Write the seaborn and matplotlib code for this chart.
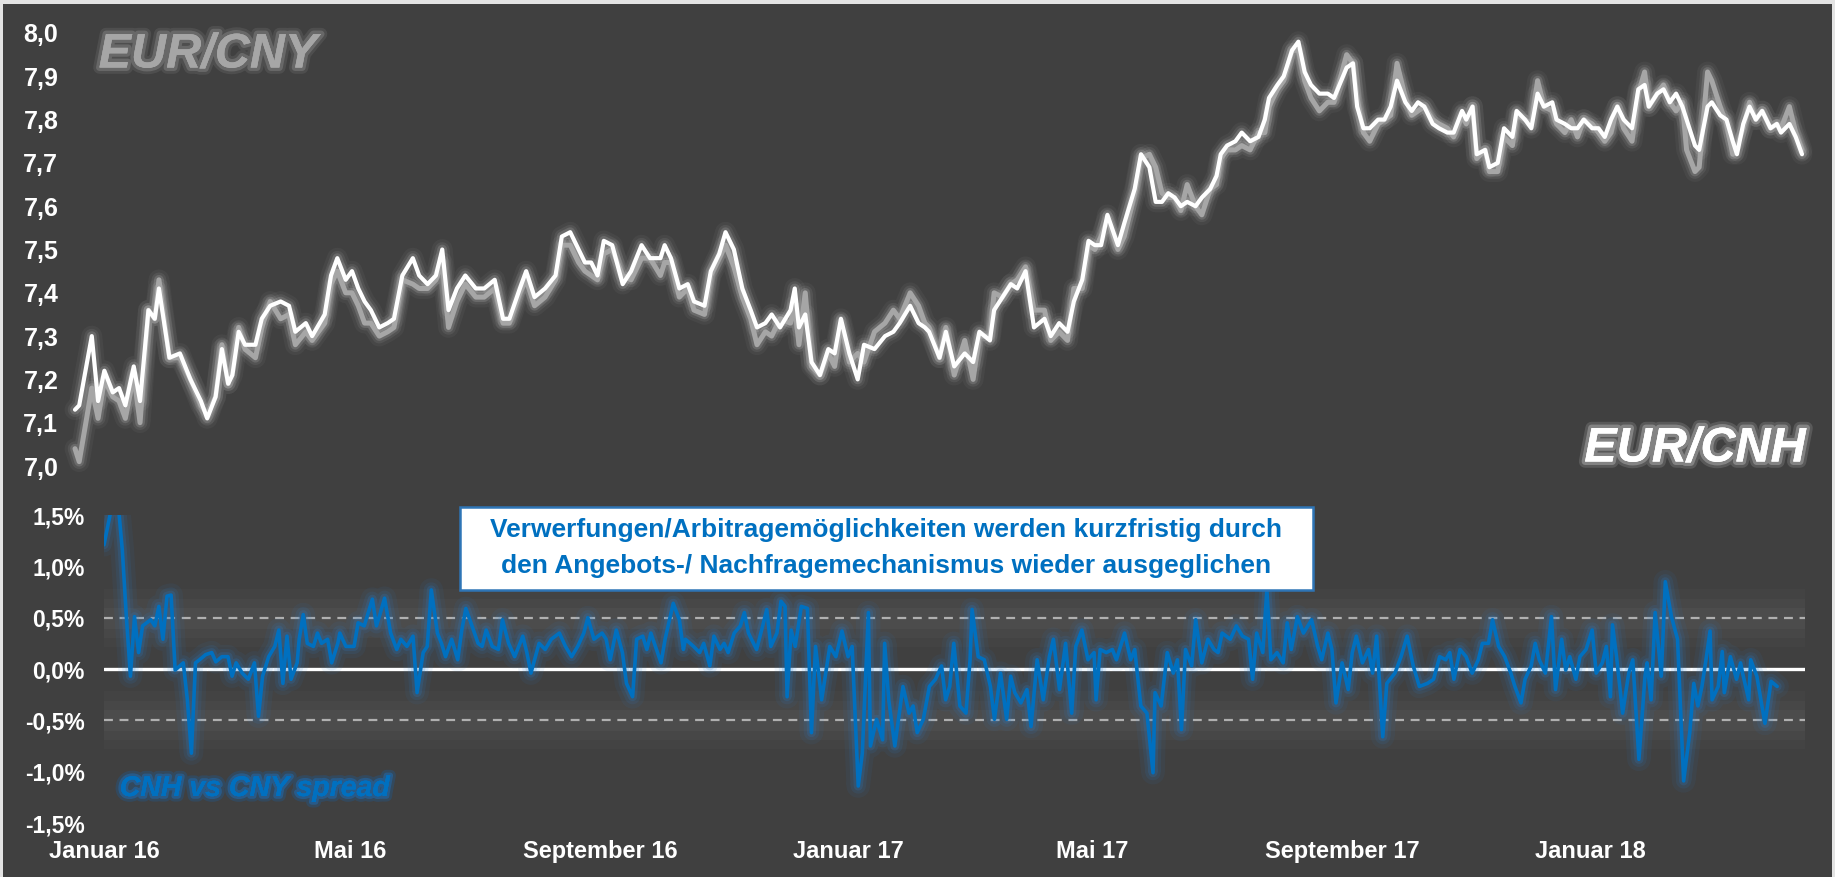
import numpy as np
import pandas as pd
import matplotlib
matplotlib.use("Agg")
import matplotlib.pyplot as plt
import seaborn as sns
from matplotlib import patheffects as pe
from matplotlib.patches import Rectangle

# ---------------- data ----------------
START = "2016-01-01"

# EUR/CNH and EUR/CNY: day offsets from 1 Jan 2016 and exchange rates
fx_days = [0, 2, 8, 11, 14, 18, 21, 24, 28, 31, 35, 38, 40, 45, 50, 55, 60, 63, 67, 70, 73, 75, 78, 81, 86, 89,
           93, 98, 102, 105, 110, 113, 119, 122, 125, 129, 132, 135, 138, 141, 145, 149, 152, 156, 161, 164,
           168, 172, 175, 178, 182, 186, 191, 195, 200, 204, 207, 212, 215, 219, 224, 229, 232, 236, 240, 243,
           246, 249, 252, 256, 261, 265, 270, 274, 279, 281, 284, 288, 292, 295, 300, 303, 307, 310, 314, 318,
           322, 325, 329, 332, 336, 341, 343, 345, 348, 351, 355, 359, 362, 365, 369, 373, 376, 381, 386, 390,
           393, 398, 402, 405, 407, 412, 415, 419, 424, 428, 431, 436, 438, 442, 446, 449, 453, 457, 462, 465,
           469, 473, 476, 480, 483, 486, 489, 492, 497, 500, 505, 508, 512, 515, 518, 521, 524, 527, 530, 534,
           537, 541, 544, 546, 549, 553, 556, 560, 564, 567, 569, 573, 576, 580, 583, 586, 589, 593, 597, 600,
           606, 609, 611, 614, 617, 621, 624, 627, 630, 634, 637, 640, 643, 647, 650, 654, 657, 661, 663, 666,
           668, 672, 674, 678, 681, 685, 687, 691, 694, 697, 700, 704, 706, 710, 713, 716, 719, 723, 726, 729,
           732, 735, 738, 742, 745, 748, 750, 754, 757, 760, 763, 766, 768, 772, 774, 778, 780, 784, 787, 790,
           792, 795, 798, 801, 804, 808, 811, 813, 817, 820, 823]

eur_cnh = [7.13, 7.14, 7.30, 7.15, 7.22, 7.17, 7.18, 7.14, 7.23, 7.15, 7.36, 7.34, 7.41, 7.25, 7.26, 7.20, 7.15,
           7.11, 7.16, 7.27, 7.19, 7.21, 7.31, 7.28, 7.28, 7.34, 7.37, 7.38, 7.37, 7.31, 7.33, 7.30, 7.35, 7.44,
           7.48, 7.43, 7.45, 7.41, 7.38, 7.36, 7.32, 7.33, 7.34, 7.44, 7.48, 7.44, 7.42, 7.44, 7.50, 7.36, 7.41,
           7.44, 7.41, 7.41, 7.43, 7.34, 7.34, 7.41, 7.45, 7.39, 7.41, 7.44, 7.53, 7.54, 7.50, 7.47, 7.47, 7.44,
           7.52, 7.51, 7.42, 7.45, 7.51, 7.48, 7.48, 7.51, 7.48, 7.41, 7.42, 7.38, 7.37, 7.45, 7.49, 7.54, 7.50,
           7.41, 7.36, 7.32, 7.33, 7.35, 7.32, 7.36, 7.41, 7.32, 7.35, 7.24, 7.21, 7.27, 7.26, 7.34, 7.26, 7.20,
           7.28, 7.27, 7.30, 7.31, 7.33, 7.37, 7.33, 7.32, 7.31, 7.25, 7.31, 7.23, 7.26, 7.24, 7.31, 7.29, 7.36,
           7.39, 7.42, 7.41, 7.45, 7.32, 7.34, 7.30, 7.33, 7.31, 7.38, 7.43, 7.52, 7.51, 7.51, 7.58, 7.51, 7.56,
           7.64, 7.72, 7.69, 7.61, 7.61, 7.63, 7.62, 7.60, 7.61, 7.60, 7.62, 7.64, 7.67, 7.72, 7.74, 7.75, 7.77,
           7.75, 7.76, 7.80, 7.85, 7.88, 7.90, 7.96, 7.98, 7.91, 7.88, 7.86, 7.86, 7.85, 7.92, 7.93, 7.83, 7.78,
           7.78, 7.80, 7.80, 7.83, 7.89, 7.84, 7.82, 7.84, 7.83, 7.79, 7.78, 7.77, 7.77, 7.82, 7.80, 7.83, 7.72,
           7.73, 7.69, 7.70, 7.78, 7.76, 7.82, 7.80, 7.78, 7.86, 7.83, 7.84, 7.80, 7.79, 7.78, 7.78, 7.80, 7.78,
           7.78, 7.76, 7.80, 7.83, 7.80, 7.78, 7.87, 7.88, 7.83, 7.86, 7.87, 7.84, 7.86, 7.83, 7.80, 7.74, 7.73,
           7.83, 7.84, 7.81, 7.80, 7.75, 7.72, 7.79, 7.83, 7.80, 7.82, 7.78, 7.79, 7.77, 7.79, 7.76, 7.72]

eur_cny = [7.04, 7.01, 7.18, 7.11, 7.20, 7.16, 7.15, 7.11, 7.21, 7.10, 7.36, 7.34, 7.43, 7.25, 7.25, 7.20, 7.14,
           7.12, 7.16, 7.28, 7.19, 7.24, 7.32, 7.27, 7.25, 7.32, 7.38, 7.34, 7.35, 7.28, 7.31, 7.29, 7.33, 7.42,
           7.45, 7.40, 7.40, 7.37, 7.33, 7.33, 7.30, 7.31, 7.32, 7.43, 7.42, 7.41, 7.41, 7.43, 7.47, 7.32, 7.38,
           7.42, 7.39, 7.39, 7.41, 7.33, 7.33, 7.40, 7.43, 7.37, 7.39, 7.43, 7.51, 7.51, 7.47, 7.45, 7.44, 7.43,
           7.49, 7.50, 7.44, 7.43, 7.48, 7.48, 7.44, 7.47, 7.47, 7.39, 7.41, 7.36, 7.35, 7.44, 7.48, 7.51, 7.46,
           7.39, 7.34, 7.28, 7.31, 7.30, 7.34, 7.33, 7.37, 7.28, 7.40, 7.23, 7.21, 7.26, 7.23, 7.33, 7.24, 7.26,
           7.24, 7.31, 7.33, 7.36, 7.34, 7.40, 7.37, 7.33, 7.32, 7.25, 7.32, 7.21, 7.29, 7.20, 7.30, 7.30, 7.40,
           7.39, 7.42, 7.43, 7.46, 7.36, 7.36, 7.29, 7.31, 7.29, 7.41, 7.41, 7.51, 7.50, 7.53, 7.57, 7.50, 7.53,
           7.63, 7.71, 7.72, 7.69, 7.63, 7.62, 7.62, 7.59, 7.65, 7.60, 7.58, 7.64, 7.65, 7.71, 7.73, 7.73, 7.74,
           7.73, 7.77, 7.77, 7.83, 7.87, 7.89, 7.96, 7.96, 7.89, 7.85, 7.82, 7.84, 7.84, 7.95, 7.93, 7.85, 7.77,
           7.75, 7.79, 7.80, 7.81, 7.93, 7.85, 7.81, 7.82, 7.83, 7.80, 7.79, 7.78, 7.76, 7.81, 7.79, 7.83, 7.71,
           7.73, 7.68, 7.68, 7.76, 7.74, 7.81, 7.80, 7.79, 7.89, 7.83, 7.82, 7.79, 7.77, 7.80, 7.76, 7.80, 7.79,
           7.77, 7.75, 7.77, 7.83, 7.78, 7.75, 7.86, 7.91, 7.83, 7.86, 7.88, 7.84, 7.82, 7.84, 7.73, 7.68, 7.69,
           7.91, 7.89, 7.83, 7.79, 7.72, 7.74, 7.78, 7.84, 7.80, 7.82, 7.78, 7.79, 7.78, 7.83, 7.77, 7.73]

# CNH vs CNY spread (%)
spread_days = [0, 4, 7, 9, 11, 13, 15, 17, 19, 21, 23, 25, 27, 29, 31, 33, 35, 39, 41, 43, 45, 47, 50, 53, 55, 58,
               61, 63, 65, 68, 71, 74, 76, 78, 81, 84, 86, 88, 90, 92, 95, 96, 98, 100, 103, 105, 107, 110, 112,
               115, 116, 119, 123, 125, 128, 132, 134, 136, 138, 141, 144, 146, 149, 152, 154, 157, 159, 161, 164,
               166, 168, 171, 174, 176, 178, 181, 184, 186, 188, 191, 194, 196, 199, 202, 206, 208, 210, 214, 217,
               220, 224, 227, 230, 233, 236, 238, 241, 245, 247, 249, 252, 255, 257, 260, 262, 265, 267, 269, 274,
               276, 280, 283, 285, 286, 290, 293, 295, 298, 300, 303, 305, 307, 310, 313, 315, 317, 321, 324, 326,
               328, 331, 333, 335, 336, 338, 340, 343, 346, 348, 350, 353, 355, 357, 360, 363, 366, 368, 371, 373,
               376, 377, 380, 383, 384, 386, 389, 393, 396, 398, 400, 403, 406, 409, 412, 414, 416, 418, 421, 424,
               426, 427, 430, 433, 436, 438, 441, 444, 446, 448, 451, 454, 456, 459, 462, 465, 467, 470, 473, 476,
               478, 481, 484, 487, 488, 490, 493, 496, 498, 502, 505, 507, 510, 513, 516, 517, 520, 523, 526, 528,
               530, 532, 535, 537, 540, 543, 546, 548, 550, 554, 557, 560, 563, 565, 567, 570, 572, 574, 577, 580,
               582, 584, 587, 590, 594, 597, 599, 602, 604, 606, 609, 612, 614, 616, 619, 622, 624, 626, 629, 631,
               635, 638, 641, 644, 647, 651, 654, 657, 660, 662, 664, 667, 670, 673, 676, 678, 681, 683, 686, 689,
               692, 694, 697, 699, 702, 704, 706, 709, 712, 714, 717, 719, 721, 724, 726, 729, 732, 734, 737, 739,
               741, 742, 744, 747, 750, 752, 755, 758, 759, 761, 763, 766, 768, 771, 774, 775, 777, 780, 782, 784,
               786, 788, 790, 791, 794, 796, 797, 800, 803, 805, 806, 809, 810, 813, 815, 817, 820, 823]

spread_pct = [1.21, 1.60, 1.60, 1.16, 0.51, -0.07, 0.51, 0.16, 0.42, 0.45, 0.48, 0.42, 0.61, 0.29, 0.71, 0.72,
              -0.01, 0.06, -0.30, -0.82, 0.06, 0.09, 0.14, 0.16, 0.07, 0.12, 0.12, -0.07, 0.06, -0.04, -0.10,
              0.06, -0.46, -0.07, 0.12, 0.22, 0.38, -0.14, 0.32, -0.10, 0.06, 0.29, 0.53, 0.25, 0.22, 0.35, 0.25,
              0.29, 0.06, 0.25, 0.35, 0.22, 0.22, 0.45, 0.42, 0.68, 0.42, 0.55, 0.69, 0.35, 0.19, 0.29, 0.22,
              0.32, -0.23, 0.16, 0.22, 0.77, 0.35, 0.25, 0.12, 0.29, 0.09, 0.38, 0.59, 0.42, 0.25, 0.22, 0.38,
              0.22, 0.19, 0.48, 0.25, 0.12, 0.32, 0.16, -0.04, 0.25, 0.19, 0.29, 0.35, 0.22, 0.12, 0.22, 0.35,
              0.50, 0.29, 0.35, 0.29, 0.09, 0.38, 0.16, -0.14, -0.27, 0.29, 0.32, 0.19, 0.35, 0.06, 0.29, 0.64,
              0.48, 0.19, 0.29, 0.22, 0.16, 0.25, 0.03, 0.32, 0.19, 0.25, 0.16, 0.35, 0.42, 0.55, 0.35, 0.19,
              0.42, 0.58, 0.22, 0.35, 0.66, 0.61, -0.27, 0.38, 0.22, 0.61, 0.59, -0.62, 0.22, -0.30, -0.04, 0.22,
              0.12, 0.37, 0.12, 0.22, -1.14, -0.82, 0.55, -0.75, -0.49, -0.69, 0.25, -0.30, -0.75, -0.17, -0.43,
              -0.36, -0.62, -0.49, -0.17, -0.10, 0.03, -0.30, -0.17, 0.25, -0.36, -0.43, 0.09, 0.58, 0.12, 0.09,
              -0.17, -0.49, -0.04, -0.49, -0.07, -0.23, -0.33, -0.20, -0.56, 0.09, -0.30, 0.12, 0.29, -0.20, 0.25,
              -0.43, 0.22, 0.38, 0.09, 0.16, -0.30, 0.19, 0.16, 0.19, 0.09, 0.35, 0.09, 0.19, -0.36, -0.43, -1.01,
              -0.23, -0.36, 0.16, -0.04, 0.09, -0.59, 0.19, 0.03, 0.48, 0.06, 0.29, 0.19, 0.16, 0.35, 0.29, 0.42,
              0.32, 0.29, -0.10, 0.35, 0.16, 0.77, 0.09, 0.16, 0.06, 0.45, 0.19, 0.51, 0.35, 0.48, 0.22, 0.09,
              0.35, 0.19, -0.33, 0.06, -0.20, 0.16, 0.32, 0.06, 0.19, -0.04, 0.32, -0.66, -0.14, -0.04, 0.12,
              0.32, 0.03, -0.17, -0.14, -0.10, 0.12, 0.09, 0.16, -0.10, 0.19, 0.12, -0.04, 0.09, 0.25, 0.25,
              0.48, 0.22, 0.12, -0.04, -0.17, -0.33, -0.10, 0.03, 0.25, 0.09, -0.04, 0.51, -0.20, 0.29, -0.01,
              0.12, -0.10, 0.12, 0.19, 0.38, -0.04, 0.06, 0.22, -0.27, 0.43, 0.12, -0.43, -0.04, 0.09, -0.88,
              -0.07, 0.06, -0.30, 0.55, -0.07, 0.85, 0.51, 0.29, -0.17, -1.09, -0.62, -0.14, -0.36, -0.17, 0.09,
              0.37, -0.30, -0.17, 0.17, -0.23, 0.12, -0.10, 0.06, -0.04, -0.30, 0.09, -0.07, -0.30, -0.53, -0.12,
              -0.17]

y_ticks_fx = [7.0, 7.1, 7.2, 7.3, 7.4, 7.5, 7.6, 7.7, 7.8, 7.9, 8.0]
y_ticks_spread = [-1.5, -1.0, -0.5, 0.0, 0.5, 1.0, 1.5]
x_tick_dates = ["2016-01-01", "2016-05-01", "2016-09-01", "2017-01-01", "2017-05-01", "2017-09-01", "2018-01-01"]
x_tick_labels = ["Januar 16", "Mai 16", "September 16", "Januar 17", "Mai 17", "September 17", "Januar 18"]
annotation = ["Verwerfungen/Arbitragemöglichkeiten werden kurzfristig durch",
              "den Angebots-/ Nachfragemechanismus wieder ausgeglichen"]

# ---------------- frames ----------------
t0 = pd.Timestamp(START)
fx = pd.DataFrame({"date": t0 + pd.to_timedelta(fx_days, unit="D"),
                   "cnh": eur_cnh, "cny": eur_cny})
sp = pd.DataFrame({"date": t0 + pd.to_timedelta(spread_days, unit="D"), "spread": spread_pct})

# ---------------- style ----------------
sns.set_theme(style="dark")
plt.rcParams['font.family'] = ['Liberation Sans', 'DejaVu Sans']
plt.rcParams['axes.unicode_minus'] = False

W, H = 1835, 877
BG = '#404040'
WHITE = '#ffffff'
GREY = '#a6a6a6'
BLUE = '#0070c0'

fig = plt.figure(figsize=(W / 100, H / 100), dpi=100)
fig.patch.set_facecolor('#e3e3e3')
fig.add_artist(Rectangle((3 / W, 0), 1829 / W, 873 / H, transform=fig.transFigure,
                         facecolor=BG, edgecolor='none', zorder=0))


def box(x0, y0, x1, y1):
    return [x0 / W, 1 - y1 / H, (x1 - x0) / W, (y1 - y0) / H]


def fxy(x, y):
    return x / W, 1 - y / H


# ---------------- top panel: EUR/CNY & EUR/CNH ----------------
ax1 = fig.add_axes(box(75, 33, 1802, 466))
ax1.set_facecolor('none')
for lw, a in [(15, 0.04), (10.5, 0.07), (7, 0.13)]:
    sns.lineplot(data=fx, x="date", y="cny", ax=ax1, color=WHITE, linewidth=lw, alpha=a)
    sns.lineplot(data=fx, x="date", y="cnh", ax=ax1, color=WHITE, linewidth=lw, alpha=a)
sns.lineplot(data=fx, x="date", y="cny", ax=ax1, color=GREY, linewidth=3.6)
sns.lineplot(data=fx, x="date", y="cnh", ax=ax1, color=WHITE, linewidth=3.0)
for ln in ax1.lines:
    ln.set_clip_on(False)
ax1.set_xlim(t0, t0 + pd.Timedelta(days=823))
ax1.set_ylim(7.0, 8.0)
ax1.set_yticks(y_ticks_fx)
ax1.set_yticklabels([f"{v:.1f}".replace(".", ",") for v in y_ticks_fx],
                    fontsize=18, fontweight='bold', color=WHITE)
ax1.tick_params(axis='y', length=0, pad=12)
ax1.set_xticks([])
ax1.set_xlabel("")
ax1.set_ylabel("")
ax1.grid(False)
for s in ax1.spines.values():
    s.set_visible(False)

# ---------------- bottom panel: spread ----------------
ax2 = fig.add_axes(box(104, 515, 1805, 823))
ax2.set_facecolor('none')
for yv in (0.5, -0.5):
    for lw, a in [(42, 0.04), (28, 0.055), (15, 0.07)]:
        ax2.axhline(yv, color='#9a9a9a', lw=lw, alpha=a, zorder=1)
    ax2.axhline(yv, color='#b0b0b0', lw=1.6, ls=(0, (4, 3)), zorder=2)
ax2.axhline(0, color=WHITE, lw=2.4, zorder=3)
for lw, a in [(17, 0.07), (11, 0.11), (6.5, 0.18)]:
    sns.lineplot(data=sp, x="date", y="spread", ax=ax2, color='#2a7fd0', linewidth=lw, alpha=a, zorder=4)
sns.lineplot(data=sp, x="date", y="spread", ax=ax2, color=BLUE, linewidth=2.6, zorder=5)
ax2.set_xlim(t0, t0 + pd.Timedelta(days=836.7))
ax2.set_ylim(-1.5, 1.5)
ax2.set_yticks(y_ticks_spread)
ax2.set_yticklabels([f"{v:.1f}%".replace(".", ",") for v in y_ticks_spread],
                    fontsize=16.5, fontweight='bold', color=WHITE)
ax2.set_xticks(pd.to_datetime(x_tick_dates))
ax2.set_xticklabels(x_tick_labels, fontsize=17, fontweight='bold', color=WHITE)
ax2.tick_params(axis='y', length=0, pad=14)
ax2.tick_params(axis='x', length=0, pad=12)
ax2.set_xlabel("")
ax2.set_ylabel("")
ax2.grid(False)
for s in ax2.spines.values():
    s.set_visible(False)

# ---------------- labels ----------------
glow_grey = [pe.withStroke(linewidth=9, foreground='#6a6a6a', alpha=0.35),
             pe.withStroke(linewidth=5, foreground='#7a7a7a', alpha=0.6), pe.Normal()]
fig.text(*fxy(208, 55), "EUR/CNY", fontsize=35, fontweight='bold', fontstyle='italic',
         color=GREY, ha='center', va='center', path_effects=glow_grey)
glow_white = [pe.withStroke(linewidth=9, foreground='#8a8a8a', alpha=0.35),
              pe.withStroke(linewidth=5, foreground='#a0a0a0', alpha=0.6), pe.Normal()]
fig.text(*fxy(1695, 449), "EUR/CNH", fontsize=35, fontweight='bold', fontstyle='italic',
         color=WHITE, ha='center', va='center', path_effects=glow_white)
glow_blue = [pe.withStroke(linewidth=8, foreground='#1d5a96', alpha=0.35),
             pe.withStroke(linewidth=4, foreground='#1f6cb4', alpha=0.5), pe.Normal()]
fig.text(*fxy(255, 789), "CNH vs CNY spread", fontsize=20.5, fontweight='bold', fontstyle='italic',
         color=BLUE, ha='center', va='center', path_effects=glow_blue)

# annotation box
fig.add_artist(Rectangle(fxy(460, 590), 853 / W, 83 / H, transform=fig.transFigure,
                         facecolor='white', edgecolor='#2e75b6', linewidth=1.8, zorder=6))
fig.text(*fxy(886, 530), annotation[0], fontsize=19, fontweight='bold', color=BLUE,
         ha='center', va='center', zorder=7)
fig.text(*fxy(886, 566), annotation[1], fontsize=19, fontweight='bold', color=BLUE,
         ha='center', va='center', zorder=7)

fig.savefig("out.png", dpi=100, facecolor=fig.get_facecolor())
